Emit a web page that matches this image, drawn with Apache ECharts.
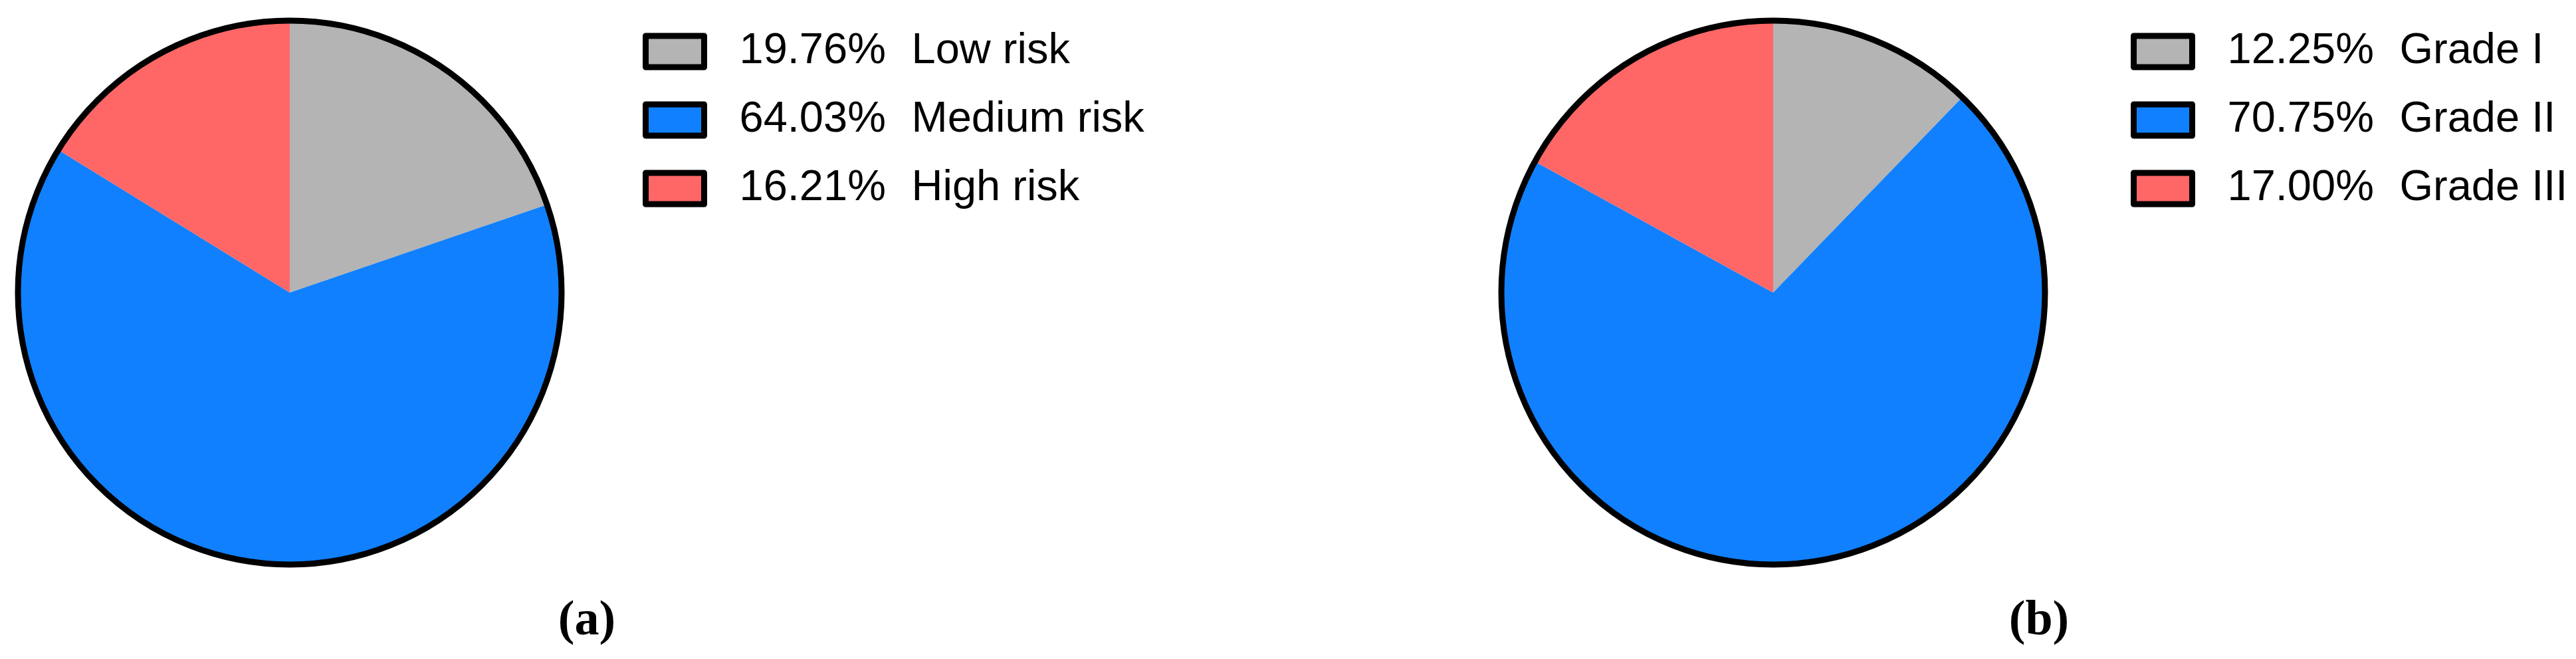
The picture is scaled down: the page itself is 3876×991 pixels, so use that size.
<!DOCTYPE html>
<html>
<head>
<meta charset="utf-8">
<script src="https://cdn.jsdelivr.net/npm/echarts@6/dist/echarts.min.js"></script>
<style>
  html, body { margin: 0; padding: 0; background: #fff; }
  #chart { width: 3876px; height: 991px; }
</style>
</head>
<body>
<div id="chart"></div>
<script>
// panel (a): risk level
const riskNames = ["Low risk", "Medium risk", "High risk"];
const riskValues = [19.76, 64.03, 16.21];
// panel (b): grade
const gradeNames = ["Grade I", "Grade II", "Grade III"];
const gradeValues = [12.25, 70.75, 17.0];
const sliceColors = ["#b3b4b3", "#1080ff", "#ff6767"];
const panelLabels = ["(a)", "(b)"];

const chart = echarts.init(document.getElementById("chart"));

const toData = (names, values) =>
  names.map((n, i) => ({ name: n, value: values[i], itemStyle: { color: sliceColors[i] } }));

// legend shows "xx.xx%  name"
const pctOf = (name) => {
  let i = riskNames.indexOf(name);
  if (i >= 0) return riskValues[i].toFixed(2) + "%";
  i = gradeNames.indexOf(name);
  return gradeValues[i].toFixed(2) + "%";
};

const legendBase = (left, names) => ({
  orient: "vertical",
  left: left,
  top: 40,
  itemWidth: 88,
  itemHeight: 47,
  itemGap: 38,
  icon: "rect",
  data: names,
  selectedMode: false,
  itemStyle: { borderColor: "#000", borderWidth: 9 },
  formatter: (name) => "{p|" + pctOf(name) + "}{n|" + name + "}",
  textStyle: {
    padding: [0, 0, 0, 48],
    lineHeight: 47,
    rich: {
      p: { width: 259, fontSize: 65, fontFamily: "Liberation Sans", color: "#000", lineHeight: 47 },
      n: { fontSize: 65, fontFamily: "Liberation Sans", color: "#000", lineHeight: 47 },
    },
  },
});

const pieSeries = (center, names, values) => ({
  type: "pie",
  center: center,
  radius: 409,
  startAngle: 90,
  clockwise: true,
  label: { show: false },
  labelLine: { show: false },
  itemStyle: { borderWidth: 0 },
  emphasis: { disabled: true },
  data: toData(names, values),
});

// black rim only round the outside, no lines between slices
const outline = (center) => ({
  type: "pie",
  center: center,
  radius: 409,
  silent: true,
  z: 5,
  label: { show: false },
  labelLine: { show: false },
  itemStyle: { color: "rgba(0,0,0,0)", borderColor: "#000", borderWidth: 9 },
  data: [{ name: "outline", value: 1 }],
});

chart.setOption({
  animation: false,
  backgroundColor: "#fff",
  title: [
    {
      text: panelLabels[0],
      left: 878,
      top: 893,
      textAlign: "center",
      textStyle: { fontFamily: "Liberation Serif", fontWeight: "bold", fontSize: 74, color: "#000" },
    },
    {
      text: panelLabels[1],
      left: 3063,
      top: 893,
      textAlign: "center",
      textStyle: { fontFamily: "Liberation Serif", fontWeight: "bold", fontSize: 74, color: "#000" },
    },
  ],
  legend: [legendBase(962, riskNames), legendBase(3201, gradeNames)],
  series: [
    pieSeries([436, 440], riskNames, riskValues),
    pieSeries([2668, 440], gradeNames, gradeValues),
    outline([436, 440]),
    outline([2668, 440]),
  ],
});
</script>
</body>
</html>
